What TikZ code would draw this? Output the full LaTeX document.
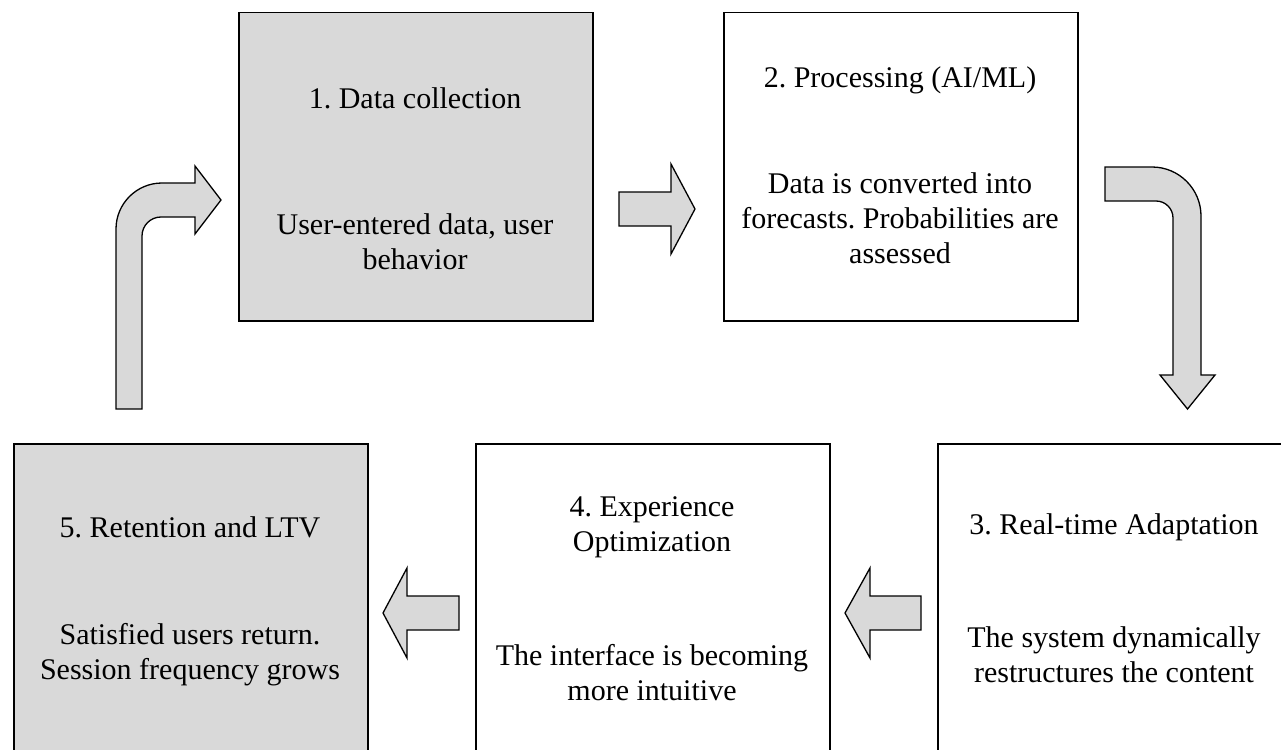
\documentclass[tikz,border=0pt]{standalone}
\usepackage{fontspec}
\setmainfont{Liberation Serif}
\frenchspacing
\definecolor{boxgray}{HTML}{D9D9D9}
\begin{document}
\begin{tikzpicture}[x=1pt,y=-1pt,
  box/.style={draw=black,line width=1.5pt,minimum width=354pt,minimum height=308pt,anchor=north west,inner sep=0pt},
  graybox/.style={box,fill=boxgray},
  whitebox/.style={box,fill=white},
  blockarrow/.style={draw=black,line width=1.3pt,fill=boxgray,line join=miter},
  txt/.style={align=center,inner sep=0pt,font=\fontsize{30}{35}\selectfont\frenchspacing}]
\useasboundingbox (0,0) rectangle (1281,749);
\clip (0,0) rectangle (1281,749);
% boxes
\node[graybox] (b1) at (238,12) {};
\node[whitebox] (b2) at (723,12) {};
\node[whitebox] (b3) at (937,443) {};
\node[whitebox] (b4) at (475,443) {};
\node[graybox] (b5) at (13,443) {};
% texts
\node[txt] (t1) at (415,98) {1. Data collection};
\node[txt] (d1) at (415,242) {User-entered data, user\\behavior};
\node[txt] (t2) at (900,80) {2. Processing (AI/ML)};
\node[txt] (d2) at (900,218) {Data is converted into\\forecasts. Probabilities are\\assessed};
\node[txt] (t3) at (1114,527) {3. Real-time Adaptation};
\node[txt] (d3) at (1114,655) {The system dynamically\\restructures the content};
\node[txt] (t4) at (652,527) {4. Experience\\Optimization};
\node[txt] (d4) at (652,673) {The interface is becoming\\more intuitive};
\node[txt] (t5) at (190,527) {5. Retention and LTV};
\node[txt] (d5) at (190,655) {Satisfied users return.\\Session frequency grows};
% straight block arrows
\draw[blockarrow] (619,192) -- (671,192) -- (671,164) -- (695,209) -- (671,254) -- (671,226) -- (619,226) -- cycle;
\draw[blockarrow] (921,596) -- (870,596) -- (870,568) -- (845,613) -- (870,658) -- (870,630) -- (921,630) -- cycle;
\draw[blockarrow] (459,596) -- (407,596) -- (407,568) -- (383,613) -- (407,658) -- (407,630) -- (459,630) -- cycle;
% bent arrow top right
\draw[blockarrow] (1105,167) -- (1152,167) .. controls (1179,167) and (1201,189) .. (1201,216) -- (1201,375) -- (1215,375) -- (1187.5,409) -- (1160,375) -- (1173,375) -- (1173,218) .. controls (1173,208.6) and (1165.4,201) .. (1156,201) -- (1105,201) -- cycle;
% bent arrow left
\draw[blockarrow] (116,409) -- (116,229) .. controls (116,203.6) and (136.6,183) .. (162,183) -- (195,183) -- (195,166) -- (221,200) -- (195,234) -- (195,217) -- (161,217) .. controls (150.5,217) and (142,225.5) .. (142,236) -- (142,409) -- cycle;
\end{tikzpicture}
\end{document}
